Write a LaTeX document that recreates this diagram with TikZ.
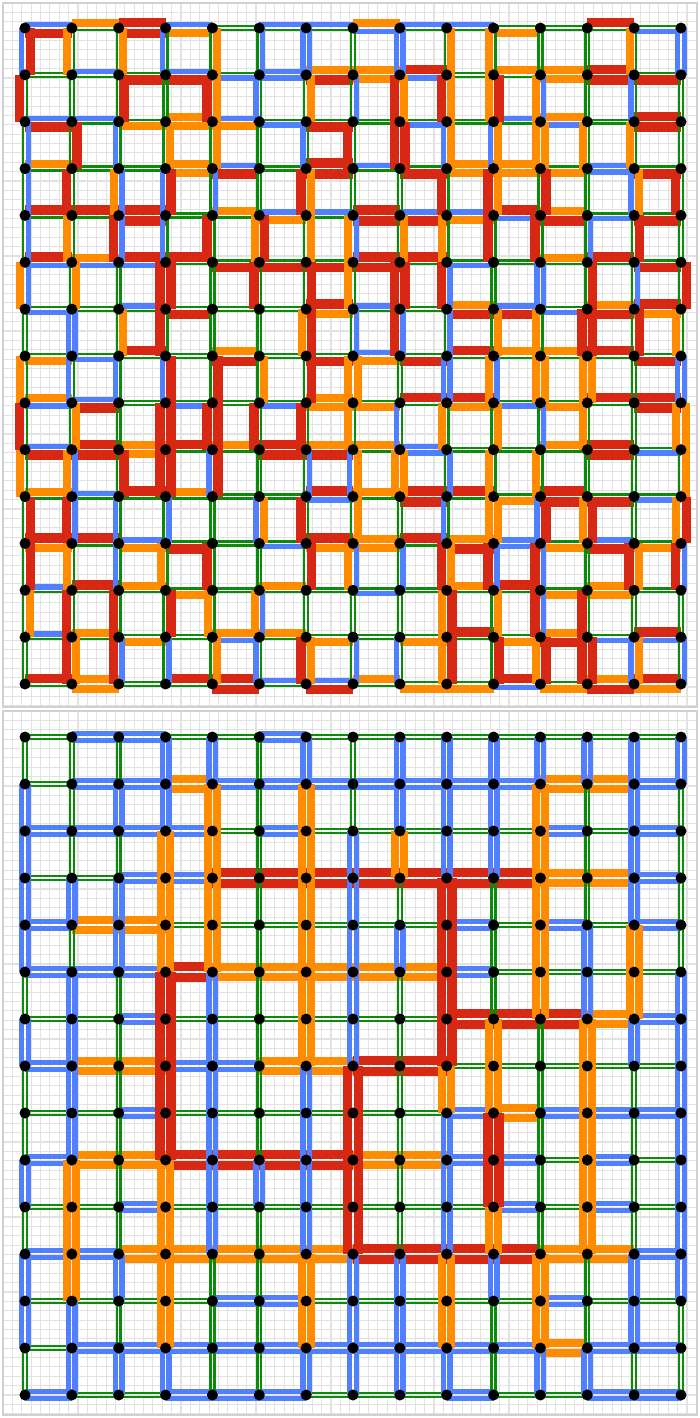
\documentclass[tikz,border=0pt]{standalone}
\usepackage{xcolor}
\definecolor{flowgreen}{RGB}{10,140,10}
\definecolor{flowblue}{RGB}{80,128,255}
\definecolor{floworange}{RGB}{255,140,0}
\definecolor{flowred}{RGB}{215,40,20}
\definecolor{gridgray}{RGB}{226,226,226}
\definecolor{framegray}{RGB}{208,208,208}
\usetikzlibrary{calc,backgrounds}

% offsets of the two sides of an edge
\def\offG{1.9}\def\offB{3.3}\def\offO{4.6}\def\offR{5.4}

% horizontal edge: top side #1, bottom side #2, from #3 to #4
\def\hpair#1#2#3#4{%
  \edef\ofa{\csname off#1\endcsname}\edef\ofb{\csname off#2\endcsname}%
  \draw[side #1] ($(#3.center)+(0,-\ofa)$) -- ($(#4.center)+(0,-\ofa)$);
  \draw[side #2] ($(#3.center)+(0,\ofb)$) -- ($(#4.center)+(0,\ofb)$);}
% vertical edge: left side #1, right side #2, from #3 to #4
\def\vpair#1#2#3#4{%
  \edef\ofa{\csname off#1\endcsname}\edef\ofb{\csname off#2\endcsname}%
  \draw[side #1] ($(#3.center)+(-\ofa,0)$) -- ($(#4.center)+(-\ofa,0)$);
  \draw[side #2] ($(#3.center)+(\ofb,0)$) -- ($(#4.center)+(\ofb,0)$);}
\def\hone#1#2#3{\hpair#1#1{#2}{#3}}
\def\vone#1#2#3{\vpair#1#1{#2}{#3}}

\begin{document}
\begin{tikzpicture}[
  x=1pt, y=-1pt,
  side G/.style={draw=flowgreen, line width=2.4pt},
  side B/.style={draw=flowblue, line width=5.4pt},
  side O/.style={draw=floworange, line width=8.0pt},
  side R/.style={draw=flowred, line width=9.6pt},
  dot/.style={circle, fill=black, inner sep=0pt, minimum size=11pt},
  gridline/.style={draw=gridgray, line width=1.1pt},
  panelframe/.style={draw=framegray, line width=1.5pt}
]
\useasboundingbox (0,0) rectangle (700,1418);

% grid points of both panels
\foreach \c in {0,...,14}
  \foreach \r in {0,...,14} {
    \node[dot] (t-\c-\r) at ({25+46.857*\c},{28+46.857*\r}) {};
    \node[dot] (b-\c-\r) at ({25+46.857*\c},{737+47*\r}) {};
  }

\begin{scope}[on background layer]
\fill[white] (0,0) rectangle (700,1418);
\begin{scope}[shift={(3,3)}]
  \draw[gridline, step=9.37pt] (0,704) grid (694,0);
\end{scope}
\begin{scope}[shift={(3,711)}]
  \draw[gridline, step=9.37pt] (0,704) grid (694,0);
\end{scope}
\draw[panelframe] (3,3) rectangle (697,707);
\draw[panelframe] (3,711) rectangle (697,1415);

% top panel, horizontal edges (top side, bottom side)
\foreach \row [count=\r from 0] in {
  {BR,OG,RR,BO,GG,BG,BG,OB,BG,BG,GO,GG,RG,GB},
  {GG,BG,GR,BR,GB,BB,OR,OO,RB,GG,OG,OO,RR,GR},
  {BR,BG,GO,OO,BO,GB,GR,GG,GB,GG,BG,OB,GG,RR},
  {OG,GG,GG,OO,BR,GG,RR,BG,GR,OO,OO,GO,BB,GR},
  {RG,RG,RR,GG,OG,BO,BG,RR,BR,BO,RB,OR,GB,GR},
  {RB,OB,RB,RG,GR,GR,GR,RR,RG,GB,GG,OG,RG,GR},
  {GB,GG,BG,GR,GG,GG,RO,BG,GG,OR,BR,GB,OR,RO},
  {GO,GB,RG,GG,OR,GG,GR,BO,GR,RG,OG,OG,RG,GR},
  {OB,BR,GG,GB,GG,GB,OO,GO,RG,RO,GB,GO,RG,RR},
  {BR,RR,OO,RG,OG,RR,OR,OG,BB,GG,GG,OG,RR,GB},
  {OG,BG,RG,OG,GG,GG,RB,OG,RR,RG,GO,RR,GR,GB},
  {RO,RG,BO,GR,GG,GB,RO,OO,RG,OR,BB,GO,BR,GO},
  {BG,RG,OG,GO,GG,OG,GG,GB,GG,OG,RG,GO,OO,GG},
  {BG,OG,GO,GG,OB,OG,GO,GG,GO,RG,GO,OR,GB,RB},
  {RG,OO,GG,RG,RR,BG,BR,OG,GO,GO,RB,GO,OR,RO}} {
  \foreach \e [count=\c from 0] in \row {
    \pgfmathtruncatemacro\cc{\c+1}
    \expandafter\hpair\e{t-\c-\r}{t-\cc-\r}
  }
}

% top panel, vertical edges (left side, right side)
\foreach \col [count=\c from 0] in {
  {BR,RG,GB,GB,GB,OB,GG,OG,RG,OG,GR,GR,GO,GG},
  {OG,GG,GR,RG,OG,GO,BB,BG,GO,OB,RB,OG,RG,RO},
  {GO,GR,BG,OB,RB,GG,GO,BG,GG,GR,BG,BG,RG,RB},
  {BG,GG,GO,BR,BG,RR,RG,BR,RR,RR,GB,OG,GR,GB},
  {GO,RO,GO,GB,RG,GG,GG,GR,RR,BR,GG,RG,OG,GO},
  {GB,BG,GG,GG,OR,RG,GG,GO,RG,GG,BO,GG,OB,BG},
  {BB,GO,BG,RO,GO,GR,OR,GR,RG,GB,RG,GR,GG,RO},
  {GG,GB,RG,GG,OB,OG,GB,OO,OG,BO,GO,OB,GG,GB},
  {BB,RO,RR,GG,GO,RR,RB,GG,BG,OO,GG,GB,GG,BG},
  {GO,RO,BO,RG,OG,RB,GB,BB,OG,GB,BG,RO,OR,OR},
  {OG,OR,BO,RO,RG,GG,GO,OB,GO,OG,OO,RB,GO,GR},
  {GG,OB,OO,GR,RG,BB,OG,OO,GB,OG,BR,RB,RB,OR},
  {GG,GG,OG,GG,GB,GR,RR,OO,OG,GG,OR,GG,RG,RR},
  {OG,BG,OG,BO,GR,GB,GR,GG,GG,GG,GG,RO,GG,BO},
  {BB,GG,GG,RG,GG,GR,OG,BB,OO,GO,OR,RB,GG,GB}} {
  \foreach \e [count=\r from 0] in \col {
    \pgfmathtruncatemacro\rr{\r+1}
    \expandafter\vpair\e{t-\c-\r}{t-\c-\rr}
  }
}

% bottom panel, horizontal edges
\foreach \row [count=\r from 0] in {
  {G,B,B,G,G,B,G,G,G,G,G,G,G,G},
  {G,B,B,O,B,B,B,B,B,B,B,O,O,B},
  {B,B,B,B,G,B,G,G,G,G,G,B,G,B},
  {G,G,B,B,R,R,R,R,R,R,R,O,O,B},
  {B,O,O,G,G,G,G,G,G,B,G,B,G,B},
  {B,B,B,R,O,O,O,O,O,B,G,G,G,G},
  {G,G,B,G,G,G,G,G,G,R,R,R,O,B},
  {B,O,O,B,B,O,O,R,R,G,G,G,G,G},
  {G,G,B,G,G,G,G,G,G,B,O,B,B,B},
  {B,O,O,R,R,R,R,O,O,B,B,G,B,G},
  {G,G,B,G,G,G,G,G,G,G,B,G,B,G},
  {B,B,O,O,O,O,O,R,R,R,R,O,O,B},
  {G,G,G,G,B,B,G,G,G,G,G,B,G,G},
  {G,B,B,B,B,B,B,B,B,B,B,O,B,B},
  {B,G,G,B,B,B,G,G,G,B,G,G,B,B}} {
  \foreach \e [count=\c from 0] in \row {
    \pgfmathtruncatemacro\cc{\c+1}
    \expandafter\hone\e{b-\c-\r}{b-\cc-\r}
  }
}

% bottom panel, vertical edges
\foreach \col [count=\c from 0] in {
  {G,B,B,B,B,G,B,G,G,B,G,B,B,G},
  {G,G,G,B,G,B,B,B,B,O,O,O,B,B},
  {G,B,G,B,B,G,G,G,G,G,G,B,G,B},
  {B,B,O,O,O,R,R,R,R,O,O,O,O,B},
  {B,O,O,O,O,B,B,B,B,B,B,G,G,G},
  {G,G,G,G,G,G,G,G,G,B,G,G,G,G},
  {B,O,O,O,O,O,O,B,B,B,B,O,O,B},
  {G,G,B,B,B,B,B,R,R,R,R,B,B,B},
  {B,B,O,G,B,G,G,G,G,G,G,B,B,B},
  {B,B,B,R,R,R,R,O,B,B,B,O,O,B},
  {B,B,B,G,G,G,O,O,R,R,O,B,G,G},
  {B,O,O,O,O,O,G,G,G,G,G,O,O,B},
  {B,G,G,G,B,B,O,O,O,O,O,G,G,B},
  {B,B,B,B,O,O,B,G,G,G,G,B,B,G},
  {B,G,G,G,G,B,B,B,B,B,B,B,G,G}} {
  \foreach \e [count=\r from 0] in \col {
    \pgfmathtruncatemacro\rr{\r+1}
    \expandafter\vone\e{b-\c-\r}{b-\c-\rr}
  }
}
\end{scope}
\end{tikzpicture}
\end{document}
